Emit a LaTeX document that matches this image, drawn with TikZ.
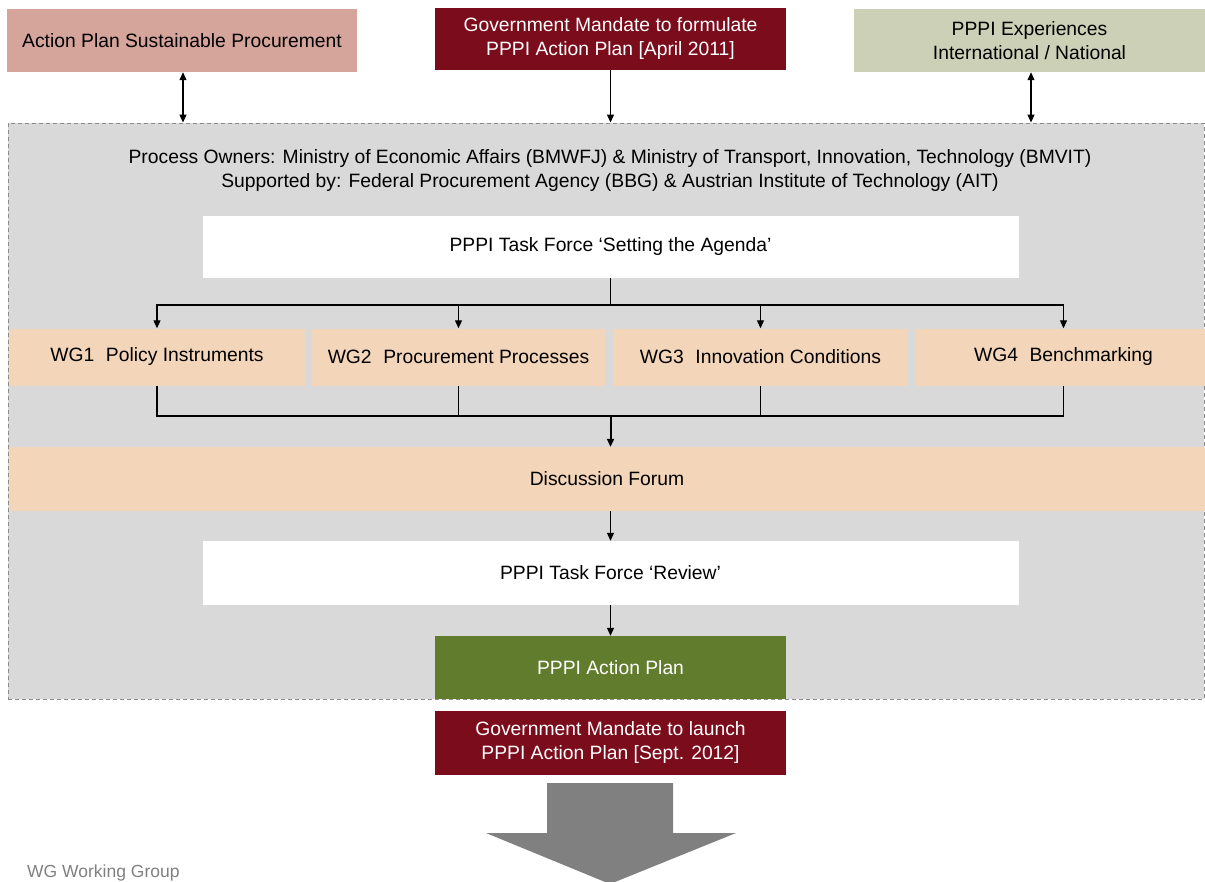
\documentclass[tikz,border=0pt]{standalone}
\usepackage{fontspec}
\setmainfont{Liberation Sans}
\usetikzlibrary{arrows.meta}
\definecolor{rose}{HTML}{D5A59B}
\definecolor{maroon}{HTML}{7A0C1B}
\definecolor{sage}{HTML}{CBD0B6}
\definecolor{panel}{HTML}{D9D9D9}
\definecolor{peach}{HTML}{F3D5B9}
\definecolor{olive}{HTML}{627C2D}
\definecolor{arrowgray}{HTML}{808080}
\definecolor{bordergray}{HTML}{8C8C8C}
\tikzset{
  box/.style={inner sep=0pt, align=center, font=\fontsize{19.3}{24}\selectfont},
  conn/.style={line width=1.1pt, -{Triangle[length=8pt,width=7pt]}},
  dconn/.style={line width=1.1pt, {Triangle[length=8pt,width=7pt]}-{Triangle[length=8pt,width=7pt]}},
  plain/.style={line width=1.1pt},
}
\begin{document}
\begin{tikzpicture}[x=1pt,y=-1pt]
\useasboundingbox (0,0) rectangle (1205,881);
% background panel
\node[box, fill=panel, draw=bordergray, dash pattern=on 4pt off 3pt, line width=0.9pt,
      minimum width=1196pt, minimum height=576pt] (bg) at (606,411) {};
% top boxes
\node[box, fill=rose, minimum width=350pt, minimum height=63pt] (aps) at (182,40.5) {Action Plan Sustainable Procurement};
\node[box, fill=maroon, text=white, minimum width=351pt, minimum height=62pt] (gm1) at (610.5,39) {Government Mandate to formulate\\PPPI Action Plan [April 2011]};
\node[box, fill=sage, minimum width=351pt, minimum height=63pt] (exp) at (1029.5,40.5) {PPPI Experiences\\International / National};
% header text
\node[box] (owners) at (610,171) {Process Owners: Ministry of Economic Affairs (BMWFJ) \& Ministry of Transport, Innovation, Technology (BMVIT)\\Supported by: Federal Procurement Agency (BBG) \& Austrian Institute of Technology (AIT)};
% task force
\node[box, fill=white, minimum width=816pt, minimum height=62pt] (tf1) at (610.5,247) {PPPI Task Force `Setting the Agenda'};
% working groups
\node[box, fill=peach, minimum width=296pt, minimum height=57pt] (wg1) at (157,357) {WG1\hspace{0.6em}Policy Instruments};
\node[box, fill=peach, minimum width=293pt, minimum height=57pt] (wg2) at (458.5,357) {WG2\hspace{0.6em}Procurement Processes};
\node[box, fill=peach, minimum width=295pt, minimum height=57pt] (wg3) at (760.5,357) {WG3\hspace{0.6em}Innovation Conditions};
\node[box, fill=peach, minimum width=295pt, minimum height=57pt] (wg4) at (1063.5,357) {WG4\hspace{0.6em}Benchmarking};
% discussion forum
\node[box, fill=peach, minimum width=1196pt, minimum height=64pt] (df) at (607,479) {Discussion Forum};
% review
\node[box, fill=white, minimum width=816pt, minimum height=64pt] (tf2) at (610.5,573) {PPPI Task Force `Review'};
% action plan
\node[box, fill=olive, text=white, minimum width=351pt, minimum height=63pt] (ap) at (610.5,667.5) {PPPI Action Plan};
% launch mandate
\node[box, fill=maroon, text=white, minimum width=351pt, minimum height=64pt] (gm2) at (610.5,743) {Government Mandate to launch\\PPPI Action Plan [Sept. 2012]};
% big arrow
\fill[arrowgray] (547,783) -- (673,783) -- (673,833) -- (736,833) -- (610,884) -- (486,833) -- (547,833) -- cycle;
% footnote
\node[box, anchor=west, text=arrowgray, font=\fontsize{17.5}{20}\selectfont] (note) at (27,873) {WG Working Group};
% connectors top
\coordinate (c1) at ([xshift=1pt]aps.south);
\draw[dconn] (c1) -- (c1 |- bg.north);
\draw[conn] (gm1.south) -- (gm1.south |- bg.north);
\coordinate (c3) at ([xshift=1.5pt]exp.south);
\draw[dconn] (c3) -- (c3 |- bg.north);
% task force to WGs
\coordinate (hub) at (610.5,305);
\draw[plain] (tf1.south) -- (hub);
\draw[conn] (hub) -| (wg1.north);
\draw[conn] (hub) -| (wg2.north);
\draw[conn] (hub) -| (wg3.north);
\draw[conn] (hub) -| (wg4.north);
% WGs to forum
\coordinate (hub2) at (610.5,416);
\draw[plain] (wg1.south) |- (hub2);
\draw[plain] (wg2.south) |- (hub2);
\draw[plain] (wg3.south) |- (hub2);
\draw[plain] (wg4.south) |- (hub2);
\draw[conn, line width=2pt] (hub2) -- (hub2 |- df.north);
% forum to review to plan
\draw[conn] (tf2.north |- df.south) -- (tf2.north);
\draw[conn] (tf2.south) -- (ap.north);
\end{tikzpicture}
\end{document}
